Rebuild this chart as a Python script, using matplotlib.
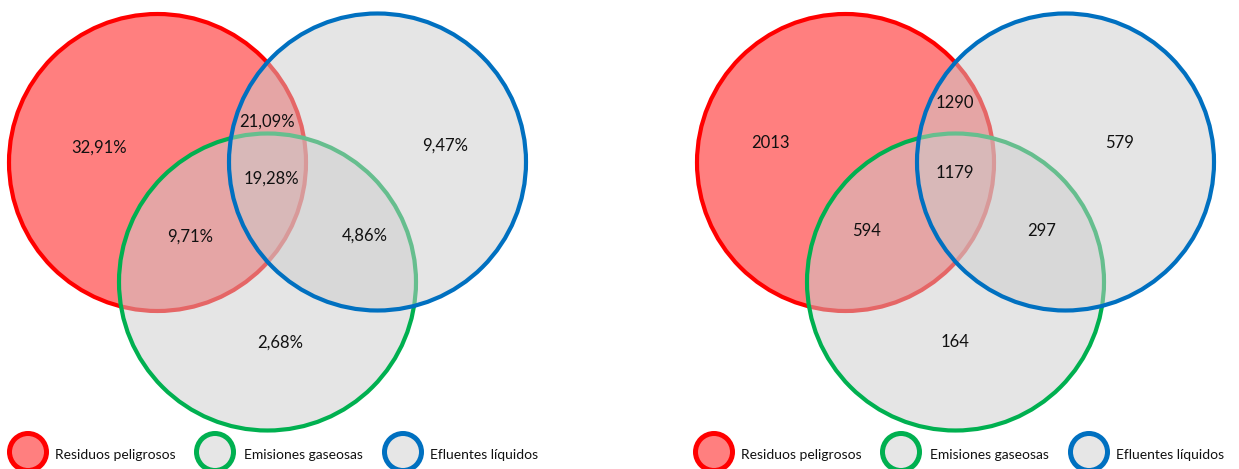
import matplotlib.pyplot as plt
from matplotlib.patches import Circle

plt.rcParams['font.family'] = ['Lato', 'DejaVu Sans']

# data
categories = ['Residuos peligrosos', 'Emisiones gaseosas', 'Efluentes líquidos']
# regions: solo R, R∩E (not G), triple, solo E, R∩G, G∩E, solo G
pct_values = [32.91, 21.09, 19.28, 9.47, 9.71, 4.86, 2.68]
count_values = [2013, 1290, 1179, 579, 594, 297, 164]

# layout (pixels)
edge_colors = ['#ff0000', '#00b050', '#0070c0']
face_colors = ['#ff7f7f', (0.8, 0.8, 0.8, 0.5), (0.8, 0.8, 0.8, 0.5)]
centers = [(157.5, 162.5), (267.5, 282), (377.5, 162)]
radius = 148.5
left_label_pos = [(99, 148), (267, 122), (271, 179), (445, 146),
                  (190, 237), (365, 236), (280, 343)]
right_label_pos = [(770, 143), (955, 103), (955, 173), (1120, 143),
                   (867, 231), (1042, 231), (955, 342)]
legend_circle_x = [28, 215, 403]
legend_text_x = [55, 244, 430]


def fmt_pct(v):
    return f'{v:.2f}'.replace('.', ',') + '%'


def draw_venn(ax, dx, values, positions):
    for (cx, cy), ec, fc in zip(centers, edge_colors, face_colors):
        ax.add_patch(Circle((cx + dx, cy), radius, facecolor=fc,
                            edgecolor=ec, linewidth=3))
    for v, (x, y) in zip(values, positions):
        ax.text(x, y, v, ha='center', va='center', fontsize=12,
                color='#111111')


def draw_legend(ax, dx):
    for i, name in enumerate(categories):
        ax.add_patch(Circle((legend_circle_x[i] + dx, 452), 18.5,
                            facecolor=face_colors[i] if i == 0 else '#e6e6e6',
                            edgecolor=edge_colors[i], linewidth=3.6))
        ax.text(legend_text_x[i] + dx, 455, name, ha='left', va='center',
                fontsize=10, color='#111111')


fig = plt.figure(figsize=(12.39, 4.69), dpi=100)
ax = fig.add_axes([0, 0, 1, 1])
ax.set_xlim(0, 1239)
ax.set_ylim(469, 0)
ax.axis('off')

draw_venn(ax, 0, [fmt_pct(v) for v in pct_values], left_label_pos)
draw_venn(ax, 688, [str(v) for v in count_values], right_label_pos)
draw_legend(ax, 0)
draw_legend(ax, 686)

fig.savefig('out.png', dpi=100)
